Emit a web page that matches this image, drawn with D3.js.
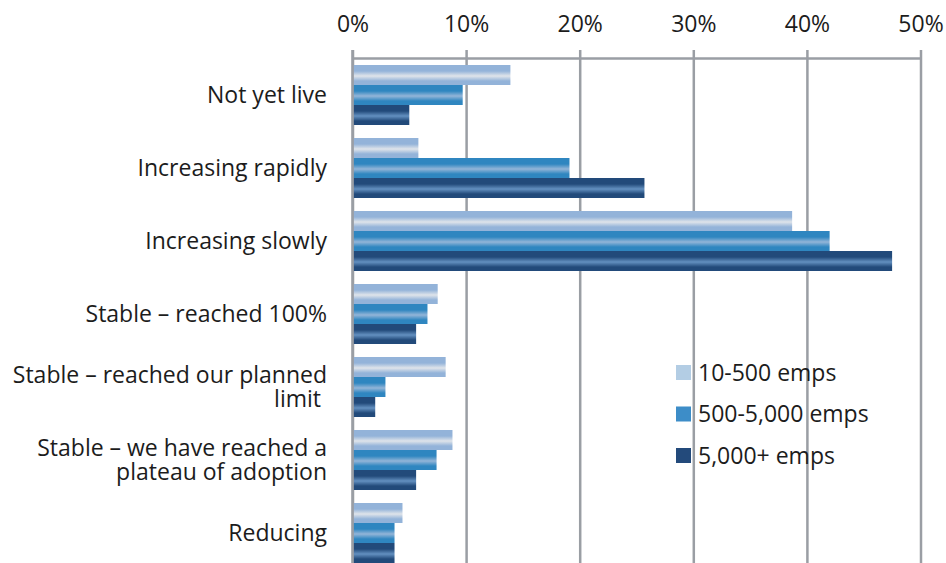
<!DOCTYPE html>
<html>
<head>
<meta charset="utf-8">
<script src="https://cdn.jsdelivr.net/npm/d3@7/dist/d3.min.js"></script>
<style>
  html, body { margin: 0; padding: 0; background: #fff; }
  svg { display: block; font-family: "Open Sans", Lato, sans-serif; }
</style>
</head>
<body>
<svg id="chart" width="946" height="563"></svg>
<script>
// Categories (top to bottom); each label may span several lines
const categories = [
  ["Not yet live"],
  ["Increasing rapidly"],
  ["Increasing slowly"],
  ["Stable \u2013 reached 100%"],
  ["Stable \u2013 reached our planned", "limit "],
  ["Stable \u2013 we have reached a", "plateau of adoption"],
  ["Reducing"]
];
const seriesNames = ["10-500 emps", "500-5,000 emps", "5,000+ emps"];
// Percent of respondents per company size
const small  = [13.9, 5.8, 38.7, 7.5, 8.2, 8.8, 4.4];
const medium = [9.7, 19.1, 42.0, 6.6, 2.9, 7.4, 3.7];
const large  = [5.0, 25.7, 47.5, 5.6, 2.0, 5.6, 3.7];
const tickValues = [0, 10, 20, 30, 40, 50];

const series = [small, medium, large];

const svg = d3.select("#chart");
const plotLeft = 352.5, plotRight = 920.5, plotTop = 58.5;
const fontSize = 23;
const textColor = "#1c1c1c";

const x = d3.scaleLinear().domain([0, 50]).range([plotLeft, plotRight]);
const y = d3.scaleBand()
  .domain(d3.range(categories.length))
  .range([plotTop, plotTop + 73 * categories.length])
  .paddingInner(13 / 73)
  .paddingOuter(6.5 / 73);
const ySub = d3.scaleBand().domain(d3.range(series.length)).range([0, y.bandwidth()]);

// Glossy bar gradients: base colour with a pale band just below the middle
const defs = svg.append("defs");
const fills = [
  { base: "#93b3d9", shine: "#dfe4ea" },
  { base: "#2f86c0", shine: "#93b5d8" },
  { base: "#224a7a", shine: "#6390c0" }
];
fills.forEach((f, i) => {
  const g = defs.append("linearGradient")
    .attr("id", "grad" + i).attr("x1", 0).attr("y1", 0).attr("x2", 0).attr("y2", 1);
  [[0, f.base], [0.3, f.base], [0.55, f.shine], [0.8, f.base], [1, f.base]]
    .forEach(([o, c]) => g.append("stop").attr("offset", o).attr("stop-color", c));
});
const legendColors = ["#b3cde4", "#3d8dc8", "#234a7b"];

// Vertical gridlines, drawn through the axis generator
const gridAxis = d3.axisTop(x).tickValues(tickValues).tickSize(-(563 - 50)).tickFormat("");
const grid = svg.append("g").attr("transform", `translate(0,50)`).call(gridAxis);
grid.select(".domain").remove();
grid.selectAll(".tick line").attr("stroke", "#9a9ea4").attr("stroke-width", 2.5);

// Horizontal axis line along the top
svg.append("line")
  .attr("x1", x(0)).attr("x2", x(50))
  .attr("y1", plotTop).attr("y2", plotTop)
  .attr("stroke", "#9a9ea4").attr("stroke-width", 2.5);

// Tick labels
const axis = d3.axisTop(x).tickValues(tickValues).tickSize(0).tickFormat(d => d + "%");
const ax = svg.append("g").attr("transform", `translate(0,35)`).call(axis);
ax.select(".domain").remove();
ax.selectAll("text")
  .attr("font-size", fontSize).attr("fill", textColor)
  .attr("font-family", "'Open Sans', Lato, sans-serif");

// Bars
series.forEach((vals, s) => {
  svg.append("g").selectAll("rect")
    .data(vals)
    .join("rect")
    .attr("x", x(0) + 1)
    .attr("y", (d, i) => y(i) + ySub(s))
    .attr("width", d => x(d) - x(0) - 1)
    .attr("height", ySub.bandwidth())
    .attr("fill", `url(#grad${s})`);
});

// Zero line on top of the bars
svg.append("line")
  .attr("x1", x(0)).attr("x2", x(0))
  .attr("y1", 50).attr("y2", 563)
  .attr("stroke", "#9a9ea4").attr("stroke-width", 2.5);

// Category labels
const labels = svg.append("g").attr("font-size", fontSize).attr("fill", textColor)
  .attr("text-anchor", "end");
categories.forEach((lines, i) => {
  const cy = y(i) + y.bandwidth() / 2;
  const lh = 23.5;
  const t = labels.append("text").attr("x", 327).style("white-space", "pre");
  lines.forEach((ln, j) => {
    t.append("tspan")
      .attr("x", 327)
      .attr("y", cy + (j - (lines.length - 1) / 2) * lh)
      .attr("dy", "0.35em")
      .text(ln);
  });
});

// Legend
const legend = svg.append("g");
seriesNames.forEach((name, i) => {
  const ly = 372.5 + i * 41.5;
  legend.append("rect")
    .attr("x", 676).attr("y", ly - 7.5).attr("width", 15).attr("height", 15)
    .attr("fill", legendColors[i]);
  legend.append("text")
    .attr("x", 698).attr("y", ly).attr("dy", "0.35em")
    .attr("font-size", fontSize).attr("fill", textColor)
    .text(name);
});
</script>
</body>
</html>
